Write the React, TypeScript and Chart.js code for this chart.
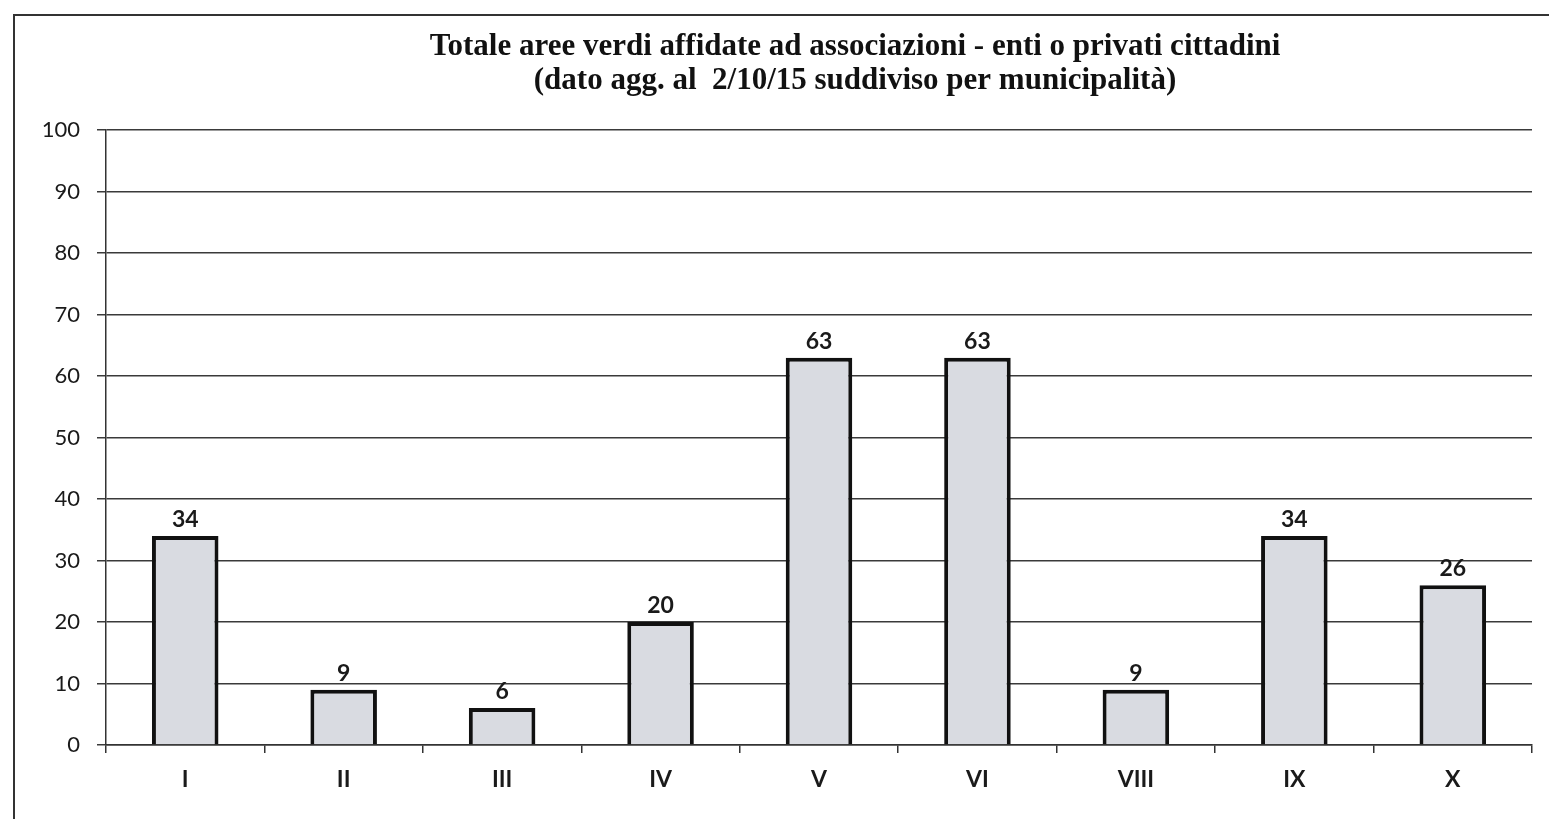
import React, { useEffect, useRef } from "react";
import { Chart, registerables } from "chart.js";

Chart.register(...registerables);

const categories = ["I", "II", "III", "IV", "V", "VI", "VIII", "IX", "X"];
const values = [34, 9, 6, 20, 63, 63, 9, 34, 26];
const titleLines = [
  "Totale aree verdi affidate ad associazioni - enti o privati cittadini",
  "(dato agg. al  2/10/15 suddiviso per municipalità)",
];
const yMin = 0;
const yMax = 100;
const yStep = 10;

const valueLabels = {
  id: "valueLabels",
  afterDatasetsDraw(chart: any) {
    const ctx = chart.ctx;
    const meta = chart.getDatasetMeta(0);
    ctx.save();
    ctx.font = "bold 23px Lato";
    ctx.fillStyle = "#1a1a1a";
    ctx.textAlign = "center";
    ctx.textBaseline = "alphabetic";
    meta.data.forEach((bar: any, i: number) => {
      ctx.fillText(String(values[i]), bar.x, bar.y - 9);
    });
    ctx.restore();
  },
};

export default function App() {
  const ref = useRef<HTMLCanvasElement | null>(null);
  useEffect(() => {
    if (!ref.current) return;
    const chart = new Chart(ref.current, {
      type: "bar",
      data: {
        labels: categories,
        datasets: [
          {
            data: values,
            backgroundColor: "#d9dbe1",
            borderColor: "#111111",
            borderWidth: 4,
            barPercentage: 0.42,
            categoryPercentage: 1,
          },
        ],
      },
      plugins: [valueLabels],
      options: {
        animation: false,
        responsive: false,
        devicePixelRatio: 1,
        layout: { padding: 0 },
        plugins: {
          legend: { display: false },
          tooltip: { enabled: false },
          title: {
            display: true,
            text: titleLines,
            color: "#111111",
            font: { family: "Liberation Serif", weight: "bold", size: 31, lineHeight: 1.1 },
            padding: { top: 30, bottom: 32 },
          },
        },
        scales: {
          x: {
            offset: true,
            grid: {
              offset: true,
              drawOnChartArea: false,
              drawTicks: true,
              tickLength: 8,
              color: "#333333",
              lineWidth: 1.5,
            },
            border: { color: "#333333", width: 1.5 },
            ticks: {
              color: "#1a1a1a",
              font: { family: "Lato", weight: "bold", size: 23 },
              padding: 13,
            },
            afterFit(scale: any) {
              scale.height = 74;
            },
          },
          y: {
            min: yMin,
            max: yMax,
            ticks: {
              stepSize: yStep,
              color: "#1a1a1a",
              font: { family: "Lato", size: 22 },
              padding: 17,
            },
            grid: {
              color: "#3a3a3a",
              lineWidth: 1.5,
              tickLength: 9,
            },
            border: { color: "#333333", width: 1.5 },
            afterFit(scale: any) {
              scale.width = 106;
            },
          },
          yRight: {
            position: "right",
            min: yMin,
            max: yMax,
            display: true,
            ticks: { display: false },
            grid: { display: false, drawOnChartArea: false },
            border: { display: false },
            afterFit(scale: any) {
              scale.width = 178;
            },
          },
        },
      },
    } as any);
    return () => chart.destroy();
  }, []);
  return (
    <div style={{ position: "fixed", left: 0, top: 0, width: "100vw", height: "100vh", overflow: "hidden", background: "#fff" }}>
      <canvas ref={ref} width={1710} height={819} style={{ position: "absolute", left: 0, top: 0 }} />
      <div
        style={{
          position: "absolute",
          left: 13,
          top: 14,
          width: 1700,
          height: 900,
          borderLeft: "2px solid #333",
          borderTop: "2px solid #333",
          pointerEvents: "none",
        }}
      />
    </div>
  );
}
